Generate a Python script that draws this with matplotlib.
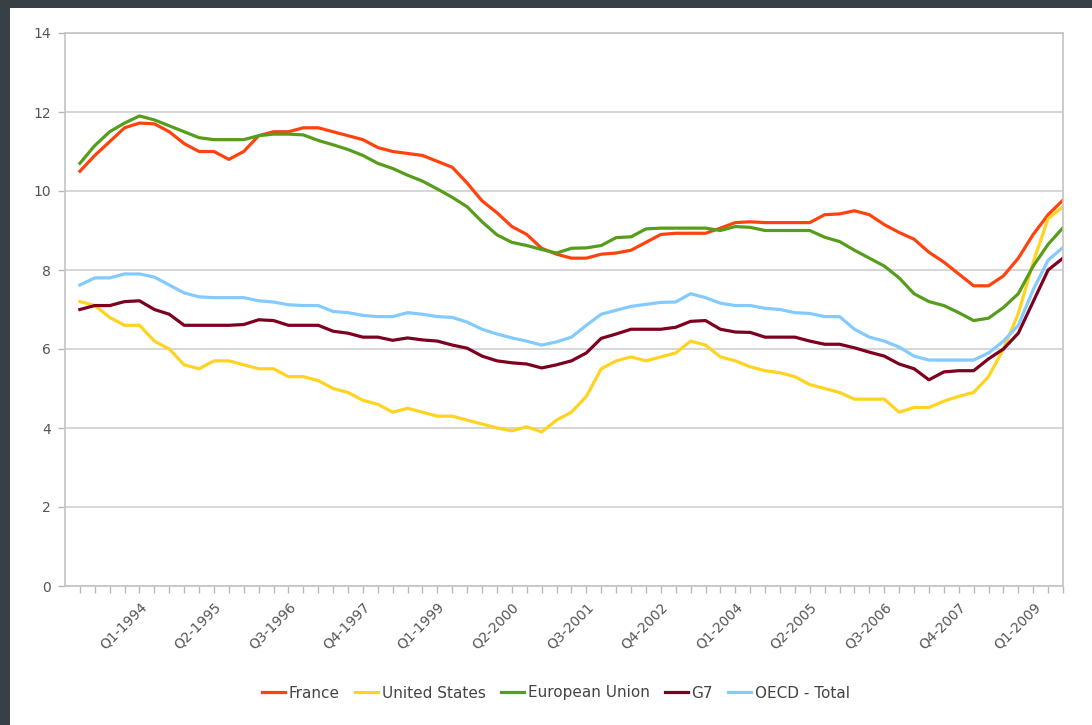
import matplotlib
matplotlib.use('Agg')
import matplotlib.pyplot as plt
from matplotlib.patches import Rectangle
import numpy as np

plt.rcParams['font.family'] = ['DejaVu Sans']

# quarterly categories, Q1-1993 .. Q3-2009
quarters = [f'Q{q}-{y}' for y in range(1993, 2010) for q in range(1, 5)][:67]

# unemployment rate (%)
france = [10.5, 10.9, 11.25, 11.6, 11.72, 11.7, 11.5, 11.2, 11.0, 11.0,
          10.8, 11.0, 11.4, 11.5, 11.5, 11.6, 11.6, 11.5, 11.4, 11.3,
          11.1, 11.0, 10.95, 10.9, 10.75, 10.6, 10.2, 9.75, 9.45, 9.1,
          8.9, 8.55, 8.4, 8.3, 8.3, 8.4, 8.43, 8.5, 8.7, 8.9,
          8.93, 8.93, 8.93, 9.06, 9.2, 9.22, 9.2, 9.2, 9.2, 9.2,
          9.4, 9.42, 9.5, 9.4, 9.15, 8.95, 8.78, 8.45, 8.2, 7.9,
          7.6, 7.6, 7.85, 8.3, 8.9, 9.4, 9.77]
united_states = [7.2, 7.1, 6.8, 6.6, 6.6, 6.2, 6.0, 5.6, 5.5, 5.7,
                 5.7, 5.6, 5.5, 5.5, 5.3, 5.3, 5.2, 5.0, 4.9, 4.7,
                 4.6, 4.4, 4.5, 4.4, 4.3, 4.3, 4.2, 4.1, 4.0, 3.93,
                 4.03, 3.9, 4.2, 4.4, 4.8, 5.5, 5.7, 5.8, 5.7, 5.8,
                 5.9, 6.2, 6.1, 5.8, 5.7, 5.55, 5.45, 5.4, 5.3, 5.1,
                 5.0, 4.9, 4.73, 4.73, 4.73, 4.4, 4.52, 4.52, 4.68, 4.8,
                 4.9, 5.3, 6.0, 6.9, 8.2, 9.3, 9.6]
european_union = [10.7, 11.15, 11.5, 11.72, 11.9, 11.8, 11.65, 11.5, 11.35, 11.3,
                  11.3, 11.3, 11.4, 11.44, 11.44, 11.42, 11.28, 11.17, 11.05, 10.9,
                  10.7, 10.57, 10.4, 10.25, 10.05, 9.84, 9.6, 9.22, 8.89, 8.7,
                  8.62, 8.52, 8.43, 8.55, 8.56, 8.62, 8.82, 8.84, 9.04, 9.06,
                  9.06, 9.06, 9.06, 9.0, 9.1, 9.08, 9.0, 9.0, 9.0, 9.0,
                  8.83, 8.72, 8.5, 8.3, 8.1, 7.8, 7.4, 7.2, 7.1, 6.92,
                  6.72, 6.78, 7.05, 7.4, 8.1, 8.65, 9.07]
g7 = [7.0, 7.1, 7.1, 7.2, 7.22, 7.0, 6.88, 6.6, 6.6, 6.6,
      6.6, 6.62, 6.74, 6.72, 6.6, 6.6, 6.6, 6.45, 6.4, 6.3,
      6.3, 6.22, 6.28, 6.23, 6.2, 6.1, 6.02, 5.82, 5.7, 5.65,
      5.62, 5.52, 5.6, 5.7, 5.9, 6.27, 6.38, 6.5, 6.5, 6.5,
      6.55, 6.7, 6.72, 6.5, 6.43, 6.42, 6.3, 6.3, 6.3, 6.2,
      6.12, 6.12, 6.03, 5.92, 5.82, 5.62, 5.5, 5.22, 5.42, 5.45,
      5.45, 5.75, 6.0, 6.4, 7.2, 8.0, 8.3]
oecd_total = [7.62, 7.8, 7.8, 7.9, 7.9, 7.82, 7.62, 7.42, 7.32, 7.3,
              7.3, 7.3, 7.22, 7.19, 7.12, 7.1, 7.1, 6.95, 6.92, 6.85,
              6.82, 6.82, 6.92, 6.88, 6.82, 6.8, 6.68, 6.5, 6.38, 6.28,
              6.2, 6.1, 6.18, 6.3, 6.6, 6.88, 6.98, 7.08, 7.13, 7.18,
              7.19, 7.4, 7.3, 7.16, 7.1, 7.1, 7.03, 7.0, 6.92, 6.9,
              6.82, 6.82, 6.5, 6.3, 6.2, 6.05, 5.82, 5.72, 5.72, 5.72,
              5.72, 5.9, 6.2, 6.6, 7.5, 8.25, 8.57]

series = [
    ('France', france, '#ff420e'),
    ('United States', united_states, '#ffd320'),
    ('European Union', european_union, '#579d1c'),
    ('G7', g7, '#7e0021'),
    ('OECD - Total', oecd_total, '#83caff'),
]

fig = plt.figure(figsize=(10.92, 7.25), dpi=100)
fig.patch.set_facecolor('#394045')
# white page, dark strip on top and left
fig.patches.append(Rectangle((10 / 1092, 0), 1 - 10 / 1092, 1 - 8 / 725,
                             transform=fig.transFigure, facecolor='white',
                             edgecolor='none', zorder=-10))

ax = fig.add_axes([65 / 1092, 1 - 586 / 725, 998 / 1092, 553 / 725])
ax.set_facecolor('white')

x = np.arange(len(quarters))
for name, vals, col in series:
    ax.plot(x, vals, color=col, lw=2.3, label=name, solid_joinstyle='round')

ax.set_xlim(-1, len(quarters) - 1)
ax.set_ylim(0, 14)
ax.set_yticks(range(0, 15, 2))
ax.grid(axis='y', color='#cfcfcf', lw=1.2)
ax.set_axisbelow(True)

label_idx = list(range(4, len(quarters), 5))
ax.set_xticks(label_idx)
ax.set_xticklabels([quarters[i] for i in label_idx], rotation=45,
                   ha='right', va='top', rotation_mode='anchor')
ax.set_xticks(x, minor=True)

for s in ax.spines.values():
    s.set_color('#c4c4c4')
    s.set_linewidth(1.2)

ax.tick_params(axis='both', which='both', color='#b8b8b8', length=5, width=1,
               labelcolor='#555555', labelsize=10)
ax.tick_params(axis='x', which='major', pad=5)
ax.tick_params(axis='y', pad=5)

fig.legend(loc='center', bbox_to_anchor=(556 / 1092, 1 - 693 / 725), ncol=5,
           frameon=False, fontsize=11, handlelength=1.5, handletextpad=0.25,
           columnspacing=1.0, labelcolor='#444444')

plt.savefig('out.png', dpi=100, facecolor=fig.get_facecolor())
